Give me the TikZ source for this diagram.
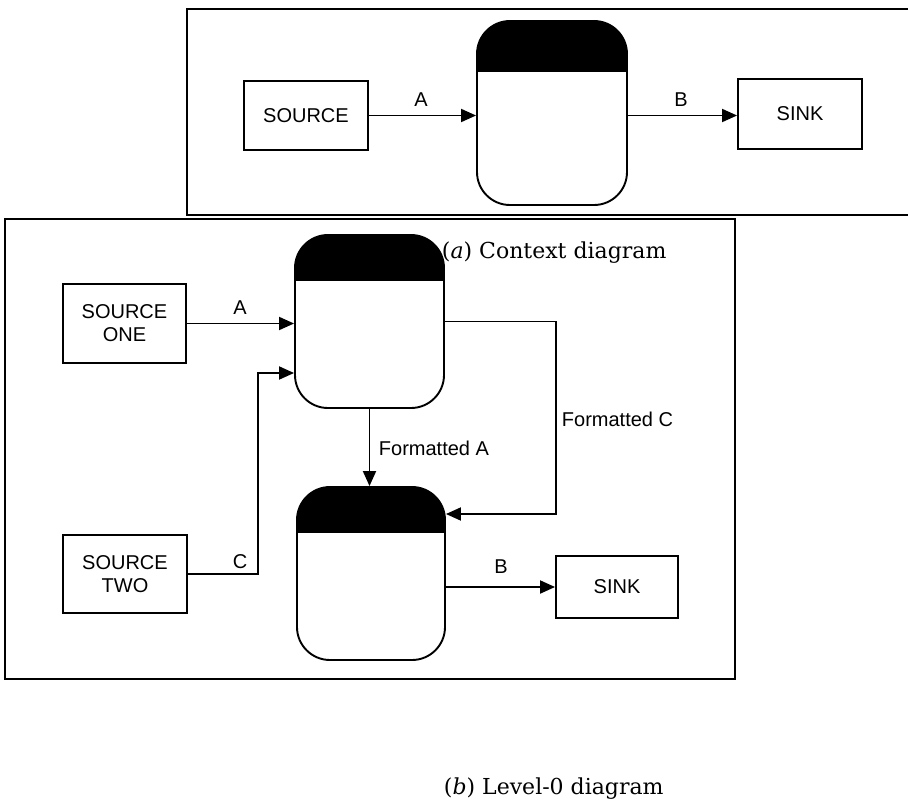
\documentclass[tikz,border=0pt]{standalone}
\usepackage{fontspec}
\setmainfont{DejaVu Serif}
\newfontfamily\hv{Liberation Sans}
\usetikzlibrary{arrows.meta}
\begin{document}
\begin{tikzpicture}[x=1pt,y=-1pt,line width=1.9pt,
  box/.style={draw, rectangle, inner sep=0pt, align=center,
    font=\hv\fontsize{20}{23}\selectfont},
  proc/.style n args={3}{draw, rectangle, rounded corners=33pt, inner sep=0pt,
    minimum width=#1, minimum height=#2,
    path picture={\fill[black, sharp corners] (path picture bounding box.north west)
      rectangle ([yshift=-#3]path picture bounding box.north east);}},
  lbl/.style={inner sep=0pt, font=\hv\fontsize{20}{23}\selectfont},
  captxt/.style={inner sep=0pt, anchor=west, font=\fontsize{22}{26}\selectfont},
  arr/.style={-{Triangle[length=15pt,width=13pt]}},
  framebox/.style={line width=2pt}]
\useasboundingbox (0,0) rectangle (908,800);
\fill[white] (0,0) rectangle (908,800);

% ---------- (a) context diagram ----------
\draw[framebox] (908,9) -- (187,9) -- (187,215) -- (908,215);
\node[box, minimum width=124pt, minimum height=69pt] (srcA) at (306,115.5) {SOURCE};
\node[proc={150pt}{184pt}{51pt}] (procA) at (552,113) {};
\node[box, minimum width=124pt, minimum height=70pt] (sinkA) at (800,114) {SINK};
\draw[arr] (srcA.east) -- (srcA.east -| procA.west);
\draw[arr] (srcA.east -| procA.east) -- (srcA.east -| sinkA.west);
\node[lbl] (lA) at (421,100) {A};
\node[lbl] (lB) at (681,100) {B};

% ---------- (b) level-0 diagram ----------
\draw[framebox] (5,219) rectangle (735,679);
\node[box, minimum width=123pt, minimum height=79pt] (src1) at (124.5,323.5) {SOURCE\\ONE};
\node[box, minimum width=124pt, minimum height=78pt] (src2) at (125,574) {SOURCE\\TWO};
\node[proc={149pt}{173pt}{46pt}] (proc1) at (369.5,321.5) {};
\node[proc={148pt}{173pt}{46pt}] (proc2) at (371,573.5) {};
\node[box, minimum width=122pt, minimum height=62pt] (sinkB) at (617,587) {SINK};

\coordinate (cbend) at (258,373);
\coordinate (fcbend) at (556,514);

\draw[arr] (src1.east) -- (src1.east -| proc1.west);
\draw[arr] (src2.east) -| (cbend) -- (cbend -| proc1.west);
\draw[arr] (proc1.south) -- (proc2.north -| proc1.south);
\draw[arr] (proc1.east) -| (fcbend) -- (fcbend -| proc2.east);
\draw[arr] (sinkB.west -| proc2.east) -- (sinkB.west);

\node[lbl] (l1A) at (240,308) {A};
\node[lbl] (l1C) at (240,562) {C};
\node[lbl] (l1B) at (501,567) {B};
\node[lbl, anchor=west] (lfA) at (378,448) {Formatted A};
\node[lbl, anchor=west] (lfC) at (561,419) {Formatted C};

\node[captxt] (capA) at (441,253) {(\textit{a}) Context diagram};
\node[captxt] (capB) at (443,789) {(\textit{b}) Level-0 diagram};
\end{tikzpicture}
\end{document}
